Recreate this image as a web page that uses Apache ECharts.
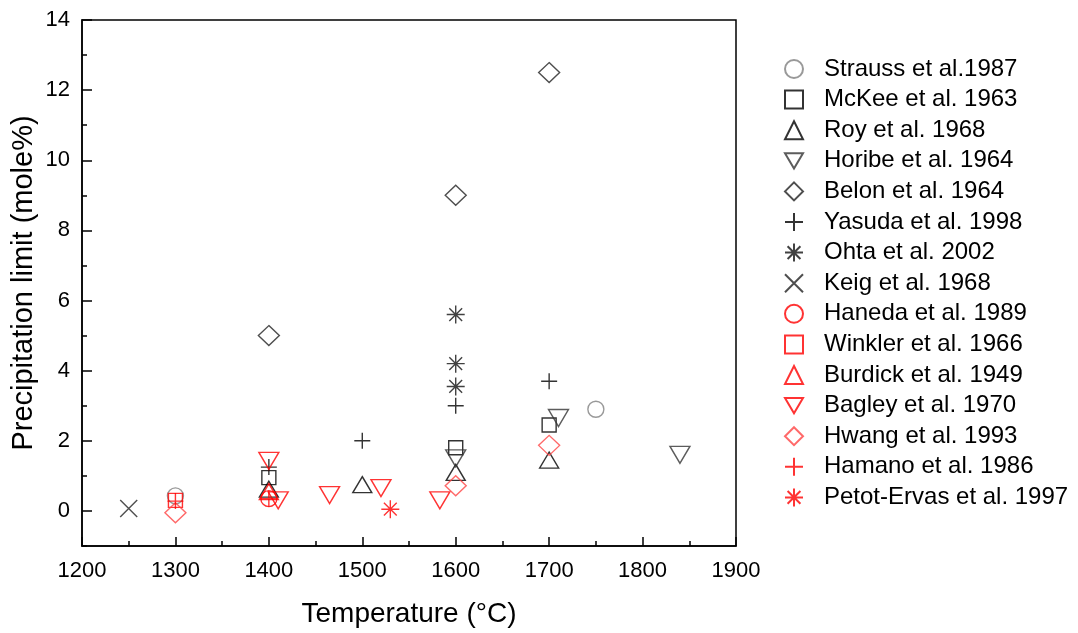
<!DOCTYPE html>
<html>
<head>
<meta charset="utf-8">
<script src="https://cdn.jsdelivr.net/npm/echarts@6/dist/echarts.min.js"></script>
<style>
  html, body { margin: 0; padding: 0; background: #fff; }
  #main { width: 1078px; height: 633px; }
</style>
</head>
<body>
<div id="main"></div>
<script>
// data: [temperature (C), precipitation limit (mole%)]
var strauss  = [[1300, 0.43], [1750, 2.9]];
var mckee    = [[1400, 0.95], [1600, 1.8], [1700, 2.45]];
var roy      = [[1400, 0.62], [1500, 0.75], [1600, 1.1], [1700, 1.45]];
var horibe   = [[1600, 1.5], [1710, 2.65], [1840, 1.6]];
var belon    = [[1400, 5.0], [1600, 9.0], [1700, 12.5]];
var yasuda   = [[1400, 1.25], [1500, 2.0], [1600, 3.0], [1700, 3.7]];
var ohta     = [[1600, 5.6], [1600, 4.2], [1600, 3.55]];
var keig     = [[1250, 0.07]];
var haneda   = [[1400, 0.35]];
var winkler  = [[1300, 0.3]];
var burdick  = [[1400, 0.55]];
var bagley   = [[1400, 1.43], [1410, 0.3], [1465, 0.45], [1520, 0.65], [1583, 0.3]];
var hwang    = [[1300, -0.05], [1600, 0.72], [1700, 1.87]];
var hamano   = [[1300, 0.28], [1400, 0.35]];
var petot    = [[1530, 0.05]];

var xTicks = [1200, 1300, 1400, 1500, 1600, 1700, 1800, 1900];
var yMajor = [0, 2, 4, 6, 8, 10, 12, 14];
var yMinor = [-1, 1, 3, 5, 7, 9, 11, 13];

var PLUS = 'path://M0,8L16,8M8,0L8,16';
var CROSS = 'path://M0,0L16,16M16,0L0,16';
var STAR = 'path://M8,0L8,16M0,8L16,8M2.3,2.3L13.7,13.7M13.7,2.3L2.3,13.7';
var DOWN = 'path://M0,0L20,0L10,17Z';

var BLK = '#000';
var RED = '#ff0000';

function mk(name, data, symbol, size, col) {
    return {
        name: name,
        type: 'scatter',
        data: data,
        symbol: symbol,
        symbolSize: size,
        itemStyle: { color: 'transparent', borderColor: col, borderWidth: 1.4 },
        emphasis: { disabled: true }
    };
}

var myChart = echarts.init(document.getElementById('main'));

var axisFont = { fontFamily: 'Liberation Sans', fontSize: 22, color: '#000' };
var gridBox = { left: 82, top: 20, right: 342, bottom: 87, outerBoundsMode: 'none' };

var option = {
    animation: false,
    textStyle: { fontFamily: 'Liberation Sans' },
    grid: [
        Object.assign({ show: true, borderColor: '#000', borderWidth: 1.5, backgroundColor: 'transparent' }, gridBox),
        Object.assign({ show: false }, gridBox)
    ],
    legend: {
        orient: 'vertical',
        left: 779,
        top: 52,
        itemWidth: 18,
        itemHeight: 18,
        itemGap: 6.6,
        textStyle: { fontFamily: 'Liberation Sans', fontSize: 24, color: '#000', padding: [0, 0, 0, 16] },
        data: ['Strauss et al.1987', 'McKee et al. 1963', 'Roy et al. 1968', 'Horibe et al. 1964',
               'Belon et al. 1964', 'Yasuda et al. 1998', 'Ohta et al. 2002', 'Keig et al. 1968',
               'Haneda et al. 1989', 'Winkler et al. 1966', 'Burdick et al. 1949', 'Bagley et al. 1970',
               'Hwang et al. 1993', 'Hamano et al. 1986', 'Petot-Ervas et al. 1997']
    },
    xAxis: [{
        type: 'value',
        min: 1200, max: 1900, interval: 100,
        name: 'Temperature (\u00B0C)',
        nameLocation: 'middle',
        nameGap: 54,
        nameMoveOverlap: false,
        nameTextStyle: { fontFamily: 'Liberation Sans', fontSize: 28, color: '#000' },
        axisLine: { show: true, onZero: false, lineStyle: { color: '#000', width: 1.5 } },
        axisTick: { show: true, inside: true, length: 9, lineStyle: { color: '#000', width: 1.5 } },
        minorTick: { show: true, splitNumber: 2, length: 5, lineStyle: { color: '#000', width: 1.5 } },
        axisLabel: Object.assign({ margin: 14, customValues: xTicks, formatter: function (v) { return String(v); } }, axisFont),
        splitLine: { show: false }
    }, {
        type: 'value',
        gridIndex: 1,
        min: 1200, max: 1900, interval: 100,
        show: false
    }],
    yAxis: [{
        type: 'value',
        min: -1, max: 14, interval: 1,
        name: 'Precipitation limit (mole%)',
        nameLocation: 'middle',
        nameGap: 44,
        nameMoveOverlap: false,
        nameTextStyle: { fontFamily: 'Liberation Sans', fontSize: 29, color: '#000' },
        axisLine: { show: true, onZero: false, lineStyle: { color: '#000', width: 1.5 } },
        axisTick: { show: true, inside: true, length: 10, customValues: yMajor, lineStyle: { color: '#000', width: 1.5 } },
        axisLabel: Object.assign({ margin: 12, customValues: yMajor }, axisFont),
        splitLine: { show: false }
    }, {
        type: 'value',
        gridIndex: 1,
        position: 'left',
        min: -1, max: 14, interval: 1,
        axisLine: { show: false },
        axisTick: { show: true, inside: true, length: 5, customValues: yMinor, lineStyle: { color: '#000', width: 1.5 } },
        axisLabel: { show: false },
        splitLine: { show: false }
    }],
    series: [
        mk('Strauss et al.1987', strauss, 'circle', 16, '#808080'),
        mk('McKee et al. 1963', mckee, 'rect', 14, BLK),
        mk('Roy et al. 1968', roy, 'triangle', [19, 16], BLK),
        mk('Horibe et al. 1964', horibe, DOWN, [20, 17], '#333'),
        mk('Belon et al. 1964', belon, 'diamond', [21, 20], '#222'),
        mk('Yasuda et al. 1998', yasuda, PLUS, 16, BLK),
        mk('Ohta et al. 2002', ohta, STAR, 18, '#111'),
        mk('Keig et al. 1968', keig, CROSS, 17, '#222'),
        mk('Haneda et al. 1989', haneda, 'circle', 16, RED),
        mk('Winkler et al. 1966', winkler, 'rect', 14, RED),
        mk('Burdick et al. 1949', burdick, 'triangle', [19, 16], RED),
        mk('Bagley et al. 1970', bagley, DOWN, [20, 17], RED),
        mk('Hwang et al. 1993', hwang, 'diamond', [21, 20], '#ff4444'),
        mk('Hamano et al. 1986', hamano, PLUS, 16, RED),
        mk('Petot-Ervas et al. 1997', petot, STAR, 18, RED)
    ]
};

myChart.setOption(option);
</script>
</body>
</html>
